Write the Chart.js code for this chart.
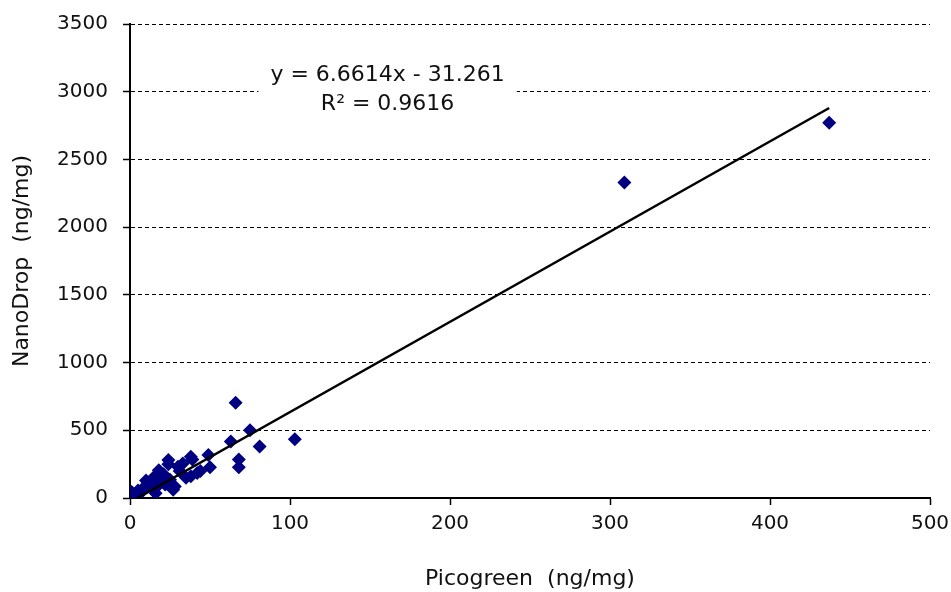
<!DOCTYPE html>
<html>
<head>
<meta charset="utf-8">
<script src="https://cdn.jsdelivr.net/npm/chart.js@4/dist/chart.umd.min.js"></script>
<style>
  html, body { margin: 0; padding: 0; background: #fff; }
  #wrap { width: 951px; height: 592px; }
</style>
</head>
<body>
<div id="wrap"><canvas id="canvas" width="951" height="592"></canvas></div>
<script>
// Picogreen (x) vs NanoDrop (y), ng/mg
let picogreen = [0, 1, 2, 3, 5, 6, 8, 10, 11, 13, 15, 16, 17, 18, 19, 21, 22, 24, 24, 25, 27, 28, 30, 31, 33, 35, 38, 38, 39, 42, 44, 49, 50, 63, 66, 68, 68, 75, 81, 103, 309, 437];
let nanodrop = [10, 45, 20, 5, 55, 30, 70, 130, 85, 100, 155, 35, 85, 205, 120, 175, 100, 280, 250, 135, 60, 85, 230, 200, 255, 150, 305, 160, 285, 185, 200, 318, 227, 418, 704, 284, 227, 500, 380, 433, 2330, 2770];

// linear trendline ends
let trendX = [4.7, 437];
let trendY = [0, 2880];

let xTicks = [0, 100, 200, 300, 400, 500];
let yTicks = [0, 500, 1000, 1500, 2000, 2500, 3000, 3500];

let eqLines = ['y = 6.6614x - 31.261', 'R\u00b2 = 0.9616'];
let eqPos = [161, 3000];

let points = [];
for (let i = 0; i < picogreen.length; i++) {
  points.push({x: picogreen[i], y: nanodrop[i]});
}
let trend = [];
for (let i = 0; i < trendX.length; i++) {
  trend.push({x: trendX[i], y: trendY[i]});
}

const fontFam = '"DejaVu Sans", sans-serif';

// equation label with white box over the gridline
const eqLabel = {
  id: 'eqLabel',
  afterDraw(chart) {
    const ctx = chart.ctx;
    const cx = chart.scales.x.getPixelForValue(eqPos[0]);
    const cy = chart.scales.y.getPixelForValue(eqPos[1]);
    ctx.save();
    ctx.font = '22px ' + fontFam;
    let w = 0;
    eqLines.forEach(function(t){ w = Math.max(w, ctx.measureText(t).width); });
    ctx.fillStyle = '#fff';
    ctx.fillRect(cx - w / 2 - 12, cy - 30, w + 24, 58);
    ctx.fillStyle = '#111';
    ctx.textAlign = 'center';
    ctx.textBaseline = 'middle';
    ctx.fillText(eqLines[0], cx, cy - 16);
    ctx.fillText(eqLines[1], cx, cy + 13);
    ctx.restore();
  }
};

window.onload = function(){
  var ctx = document.getElementById('canvas');
  new Chart(ctx, {
    type: 'scatter',
    data: {
      datasets: [{
        data: trend,
        showLine: true,
        borderColor: '#000',
        borderWidth: 2.5,
        pointRadius: 0,
        fill: false
      }, {
        data: points,
        pointStyle: 'rectRot',
        pointRadius: 7,
        backgroundColor: '#000080',
        borderColor: '#000080',
        borderWidth: 0
      }]
    },
    options: {
      responsive: false,
      animation: false,
      layout: { padding: { top: 24, right: 21, left: 0, bottom: 0 } },
      plugins: {
        legend: { display: false },
        tooltip: { enabled: false }
      },
      scales: {
        x: {
          type: 'linear',
          min: xTicks[0],
          max: xTicks[xTicks.length - 1],
          afterBuildTicks: function(s){ s.ticks = xTicks.map(function(v){ return {value: v}; }); },
          ticks: { color: '#111', padding: 7, font: { family: fontFam, size: 20 }, callback: function(v){ return String(v); } },
          grid: { drawOnChartArea: false, tickLength: 7, tickColor: '#000', tickWidth: 1.5 },
          border: { color: '#000', width: 2 },
          title: {
            display: true, text: 'Picogreen  (ng/mg)', color: '#111',
            font: { family: fontFam, size: 22 }, padding: { top: 0, bottom: 0 }
          },
          afterFit: function(s){ s.height = 94; s.paddingLeft = 0; s.paddingRight = 0; }
        },
        y: {
          type: 'linear',
          min: yTicks[0],
          max: yTicks[yTicks.length - 1],
          afterBuildTicks: function(s){ s.ticks = yTicks.map(function(v){ return {value: v}; }); },
          ticks: { color: '#111', padding: 15, font: { family: fontFam, size: 20 }, callback: function(v){ return String(v); } },
          grid: { color: '#000', lineWidth: 1, tickLength: 7, tickColor: '#000', tickWidth: 1.5, tickBorderDash: [] },
          border: { color: '#000', width: 2, dash: [4, 3] },
          title: {
            display: true, text: 'NanoDrop  (ng/mg)', color: '#111',
            font: { family: fontFam, size: 22 }, padding: { top: 9, bottom: 0 }
          },
          afterFit: function(s){ s.width = 130; s.paddingTop = 0; s.paddingBottom = 0; }
        }
      }
    },
    plugins: [eqLabel]
  });
};
</script>
</body>
</html>
